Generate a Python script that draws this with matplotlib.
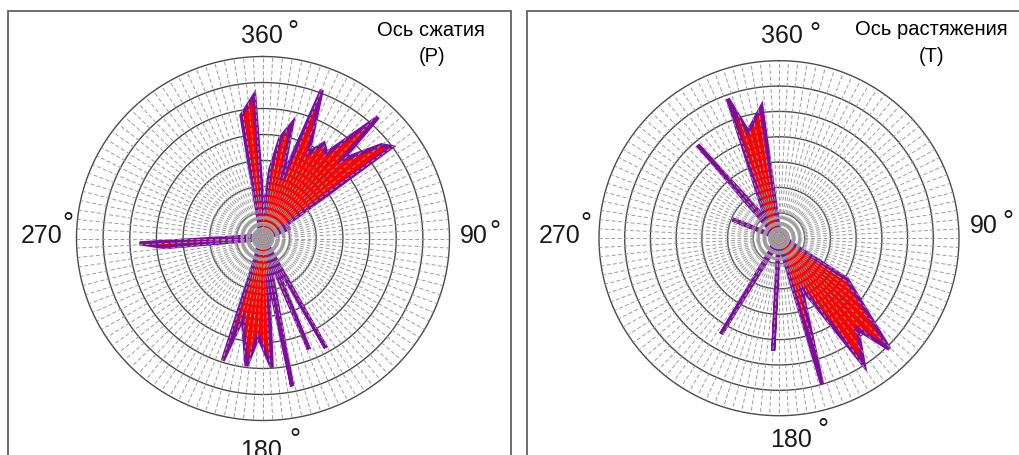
import numpy as np
import matplotlib.pyplot as plt
from matplotlib.patches import Rectangle

plt.rcParams['font.family'] = ['Liberation Sans', 'DejaVu Sans']

# rose of the compression axes (P): azimuth, deg -> length
p_angles = [1.5, 5.8, 9.5, 13.9, 17.4, 21.1, 27.5, 32, 36, 42.8, 44.5, 51.1, 53.9,
            60, 68, 75, 90, 110, 130, 146, 150.7, 154, 158, 163, 169.1, 172.5,
            176.2, 182.7, 187.2, 194, 197.8, 201, 215, 240, 262, 264.8, 267.7,
            272, 290, 320, 345, 350.3, 356.6]
p_values = [0.9, 2.66, 3.91, 4.55, 2.37, 6.13, 3.7, 4.3, 4.05, 6.36, 4.25, 5.72, 5.97,
            0.8, 1.1, 0.3, 0.25, 0.3, 0.3, 0.35, 4.82, 0.6, 4.6, 0.7, 5.79, 1.4,
            4.97, 3.76, 4.94, 3.15, 4.94, 0.7, 0.3, 0.25, 0.35, 3.68, 4.64,
            1.1, 0.3, 0.25, 0.5, 4.8, 5.52]

# rose of the tension axes (T)
t_angles = [0, 30, 60, 90, 112, 121.4, 125.5, 135.5, 139.6, 146.6, 156, 163.8, 168,
            180, 182.9, 185.5, 205, 210.8, 215, 250, 288, 292.3, 296, 314, 319.3,
            326, 340.1, 344, 352.5, 358]
t_values = [0.3, 0.25, 0.25, 0.3, 0.5, 3.1, 3.6, 6.12, 4.7, 6.0, 2.1, 6.0, 0.5,
            0.35, 4.44, 0.4, 0.5, 4.4, 0.5, 0.25, 0.3, 1.95, 0.3, 0.5, 4.85,
            0.9, 5.85, 4.36, 5.22, 0.4]

rings = [1, 2, 3, 4, 5, 6, 7]
inner_rings = [0.2, 0.4, 0.6, 0.8]
spoke_step = 3

W, H = 1020, 456
fig = plt.figure(figsize=(W / 100, H / 100), dpi=100)


def px(x, y):
    return x / W, 1 - y / H


def rose(rect, angles, values):
    ax = fig.add_axes(rect, projection='polar')
    ax.set_theta_zero_location('N')
    ax.set_theta_direction(-1)
    ax.set_ylim(0, 7)
    ax.grid(False)
    ax.set_xticks([])
    ax.set_yticks([])
    ax.spines['polar'].set_visible(False)
    ax.set_aspect('auto')

    t = np.linspace(0, 2 * np.pi, 400)
    for r in rings:
        ax.plot(t, np.full_like(t, r), color='#4a4a4a', lw=1.0, zorder=1, clip_on=False)

    th = np.radians(angles)
    ax.fill(th, values, facecolor='#ff0000', edgecolor='#7e0c9c', linewidth=3.0, zorder=2)

    for r in inner_rings:
        ax.plot(t, np.full_like(t, r), color='#a8a8a8', lw=1.3, zorder=2.5)
    for a in np.arange(0, 360, spoke_step):
        ax.plot([np.radians(a)] * 2, [0, 7], color='#9c9c9c', lw=0.7,
                ls=(0, (4, 2.5)), zorder=3)
    return ax


rose([76.5 / W, (H - 421.5) / H, 373 / W, 364 / H], p_angles, p_values)
rose([599 / W, (H - 416.7) / H, 360 / W, 355 / H], t_angles, t_values)

# panel frames
for x0, x1 in [(8, 511), (527, 1030)]:
    fig.patches.append(Rectangle(px(x0, 470), (x1 - x0) / W, (470 - 12) / H,
                                 transform=fig.transFigure, fill=False,
                                 edgecolor='#555555', lw=1.2))

# compass labels: (text, x centre, baseline, degree x, degree baseline)
labels = [('360', 261.5, 43.3, 293, 40), ('90', 473.5, 243, 495, 240),
          ('270', 41.5, 243, 67.5, 232), ('180', 261.5, 458, 295, 448),
          ('360', 781.5, 43, 815, 42), ('90', 983.5, 233, 1007.5, 230),
          ('270', 560, 243, 586, 232), ('180', 791, 447, 822.5, 438)]
for s, x, y, dx, dy in labels:
    fig.text(*px(x, y), s, fontsize=18, ha='center', va='baseline', color='#1a1a1a')
    fig.text(*px(dx, dy), '°', fontsize=20, ha='center', va='baseline', color='#1a1a1a')

fig.text(*px(431, 36), 'Ось сжатия', fontsize=14.5, ha='center', va='baseline')
fig.text(*px(432.5, 62), '(P)', fontsize=14.5, ha='center', va='baseline')
fig.text(*px(931.5, 35), 'Ось растяжения', fontsize=14.5, ha='center', va='baseline')
fig.text(*px(931.5, 62), '(T)', fontsize=14.5, ha='center', va='baseline')

fig.savefig('out.png', dpi=100)
